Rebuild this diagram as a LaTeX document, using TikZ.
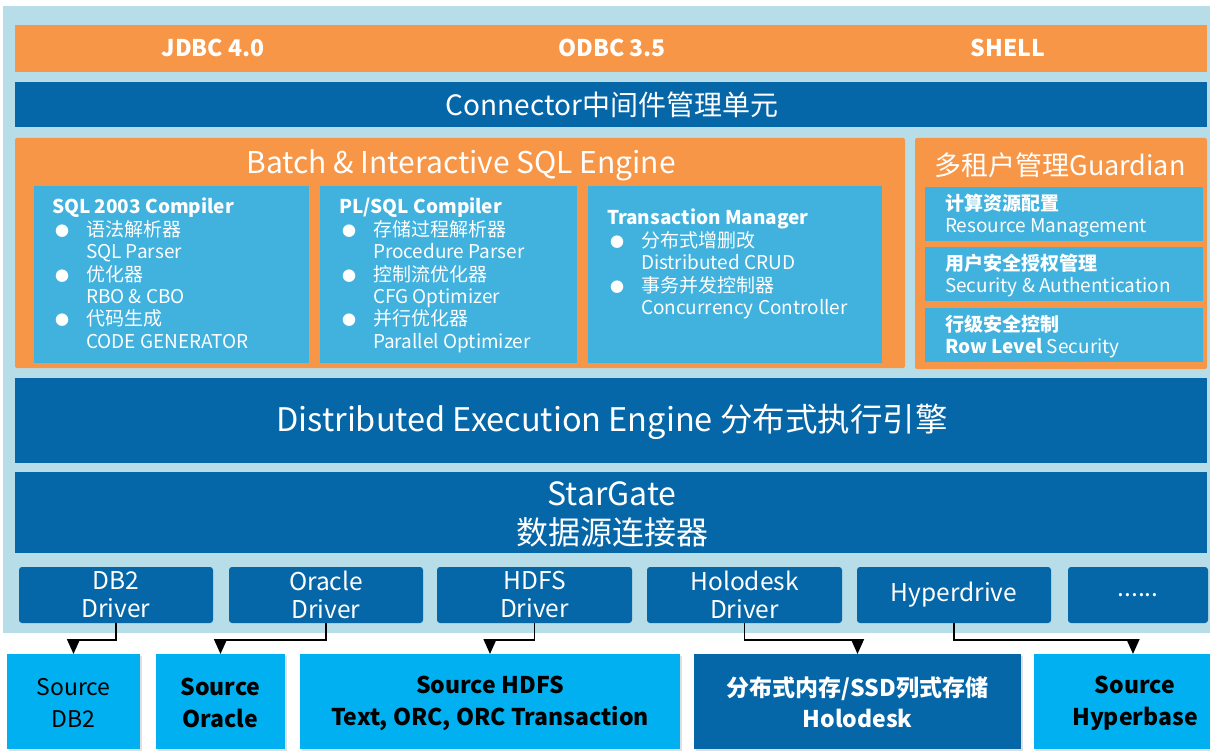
\documentclass[tikz,border=0pt]{standalone}
\usepackage{fontspec}
\setmainfont{Noto Sans CJK SC}
\usetikzlibrary{arrows.meta,shadows}
\definecolor{panel}{HTML}{B7DDE8}
\definecolor{orng}{HTML}{F79646}
\definecolor{dblue}{HTML}{0566A8}
\definecolor{lblue}{HTML}{41B1DD}
\definecolor{srccyan}{HTML}{00B0F0}
\newcommand{\blk}[6]{\node[#6, anchor=north west, minimum width=#4pt, minimum height=#5pt] (#1) at (#2,#3) {};}
\newcommand{\bl}{\makebox[34pt][l]{\hspace*{3pt}\fontsize{14}{14}\selectfont ●}}
\newcommand{\ind}{\hspace*{34pt}}
\begin{document}
\begin{tikzpicture}[x=1pt,y=-1pt,
  every node/.style={inner sep=0pt, outer sep=0pt},
  base/.style={rectangle, draw=none},
  pnl/.style={base, fill=panel},
  ob/.style={base, fill=orng},
  obr/.style={base, fill=orng, rounded corners=2pt},
  db/.style={base, fill=dblue},
  drv/.style={base, fill=dblue, rounded corners=3pt},
  lb/.style={base, fill=lblue},
  shd/.style={drop shadow={opacity=0.25, shadow xshift=2pt, shadow yshift=-2pt}},
  src/.style={base, fill=srccyan, shd},
  srcd/.style={base, fill=dblue, shd},
  wt/.style={text=white, align=center},
  bt/.style={text=black, align=center},
  inner/.style={anchor=base west, text=white},
  conn/.style={draw=black, line width=1.6pt, -{Triangle[width=13pt,length=15pt]}}
]
\useasboundingbox (0,0) rectangle (1210,751);
\fill[white] (0,0) rectangle (1210,751);
\blk{panel}{3}{6}{1210}{627}{pnl}
% interface bar
\blk{iface}{15}{25}{1192}{47}{ob}
\node[wt, font=\bfseries\fontsize{23}{26}\selectfont] (jdbc) at (213,48) {JDBC 4.0};
\node[wt, font=\bfseries\fontsize{23}{26}\selectfont] (odbc) at (612,48) {ODBC 3.5};
\node[wt, font=\bfseries\fontsize{23}{26}\selectfont] (shell) at (1008,48) {SHELL};
% connector bar
\blk{connbar}{15}{82}{1192}{45}{db}
\node[wt, font=\fontsize{28}{32}\selectfont] (conntxt) at (612,105) {Connector中间件管理单元};
% batch engine
\blk{batch}{15}{138}{890}{230}{obr}
\node[wt, font=\fontsize{30}{34}\selectfont] (batchtxt) at (461,165) {Batch \& Interactive SQL Engine};
\blk{sqlbox}{34}{186}{275}{177}{lb}
\blk{plbox}{320}{186}{257}{177}{lb}
\blk{txbox}{588}{186}{294}{177}{lb}
\node[inner] (sqltxt) at (52,214) {\parbox[t]{255pt}{\fontsize{19}{22.4}\selectfont
\textbf{SQL 2003 Compiler}\\
\bl 语法解析器\\
\ind SQL Parser\\
\bl 优化器\\
\ind RBO \& CBO\\
\bl 代码生成\\
\ind CODE GENERATOR}};
\node[inner] (pltxt) at (339,214) {\parbox[t]{235pt}{\fontsize{19}{22.4}\selectfont
\textbf{PL/SQL Compiler}\\
\bl 存储过程解析器\\
\ind Procedure Parser\\
\bl 控制流优化器\\
\ind CFG Optimizer\\
\bl 并行优化器\\
\ind Parallel Optimizer}};
\node[inner] (txtxt) at (607,225) {\parbox[t]{270pt}{\fontsize{19}{22.4}\selectfont
\textbf{Transaction Manager}\\
\bl 分布式增删改\\
\ind Distributed CRUD\\
\bl 事务并发控制器\\
\ind Concurrency Controller}};
% guardian
\blk{guard}{915}{138}{292}{231}{obr}
\node[wt, font=\fontsize{27}{32}\selectfont] (guardtxt) at (1060,165) {多租户管理Guardian};
\blk{g1}{925}{187}{278}{54}{lb}
\blk{g2}{925}{247}{278}{54}{lb}
\blk{g3}{925}{308}{278}{54}{lb}
\node[inner] (g1txt) at (945,211) {\parbox[t]{260pt}{\fontsize{19}{22}\selectfont
\textbf{计算资源配置}\\ Resource Management}};
\node[inner] (g2txt) at (945,271) {\parbox[t]{260pt}{\fontsize{19}{22}\selectfont
\textbf{用户安全授权管理}\\ Security \& Authentication}};
\node[inner] (g3txt) at (945,331) {\parbox[t]{260pt}{\fontsize{19}{22}\selectfont
\textbf{行级安全控制}\\ \textbf{Row Level} Security}};
% distributed engine
\blk{dist}{15}{378}{1192}{85}{db}
\node[wt, font=\fontsize{32.5}{36}\selectfont] (disttxt) at (612,422) {Distributed Execution Engine 分布式执行引擎};
% stargate
\blk{star}{15}{472}{1192}{81}{db}
\node[wt, font=\fontsize{32}{39}\selectfont] (startxt) at (612,514) {StarGate\\数据源连接器};
% drivers
\node[drv, wt, anchor=north west, minimum width=194pt, minimum height=56pt, font=\fontsize{24.5}{28}\selectfont] (db2drv) at (19,567) {DB2\\Driver};
\node[drv, wt, anchor=north west, minimum width=194pt, minimum height=56pt, font=\fontsize{24.5}{28}\selectfont] (oradrv) at (229,567) {Oracle\\Driver};
\node[drv, wt, anchor=north west, minimum width=195pt, minimum height=56pt, font=\fontsize{24.5}{28}\selectfont] (hdfsdrv) at (437,567) {HDFS\\Driver};
\node[drv, wt, anchor=north west, minimum width=195pt, minimum height=56pt, font=\fontsize{24.5}{28}\selectfont] (holodrv) at (647,567) {Holodesk\\Driver};
\node[drv, wt, anchor=north west, minimum width=194pt, minimum height=56pt, font=\fontsize{24.5}{28}\selectfont] (hypdrv) at (857,567) {Hyperdrive};
\node[drv, wt, anchor=north west, minimum width=140pt, minimum height=56pt, font=\fontsize{24.5}{28}\selectfont] (dotdrv) at (1068,567) {......};
% sources
\node[src, bt, anchor=north west, minimum width=133pt, minimum height=95pt, font=\fontsize{23}{32}\selectfont] (sdb2) at (7,654) {\rule{0pt}{19pt}Source\\DB2};
\node[src, bt, anchor=north west, minimum width=129pt, minimum height=95pt, font=\bfseries\fontsize{23}{32}\selectfont] (sora) at (156,654) {\rule{0pt}{20pt}Source\\Oracle};
\node[src, bt, anchor=north west, minimum width=380pt, minimum height=95pt, font=\bfseries\fontsize{23}{32}\selectfont] (shdfs) at (300,654) {\rule{0pt}{22pt}Source HDFS\\Text, ORC, ORC Transaction};
\node[srcd, wt, anchor=north west, minimum width=327pt, minimum height=95pt, font=\bfseries\fontsize{23}{31}\selectfont] (sholo) at (694,654) {\rule{0pt}{22pt}分布式内存/SSD列式存储\\Holodesk};
\node[src, anchor=north west, minimum width=180pt, minimum height=95pt] (shyp) at (1034,654) {};
\node[bt, font=\bfseries\fontsize{23}{32}\selectfont] (shyptxt) at (1135,703) {Source\\Hyperbase};
% connectors
\draw[conn] (db2drv.south) -- ++(0,17) -| (sdb2.north);
\draw[conn] (oradrv.south) -- ++(0,17) -| (sora.north);
\draw[conn] (hdfsdrv.south) -- ++(0,17) -| (shdfs.north);
\draw[conn] (holodrv.south) -- ++(0,17) -| (sholo.north);
\draw[conn] (hypdrv.south) -- ++(0,17) -| ([xshift=9pt]shyp.north);
\end{tikzpicture}
\end{document}
